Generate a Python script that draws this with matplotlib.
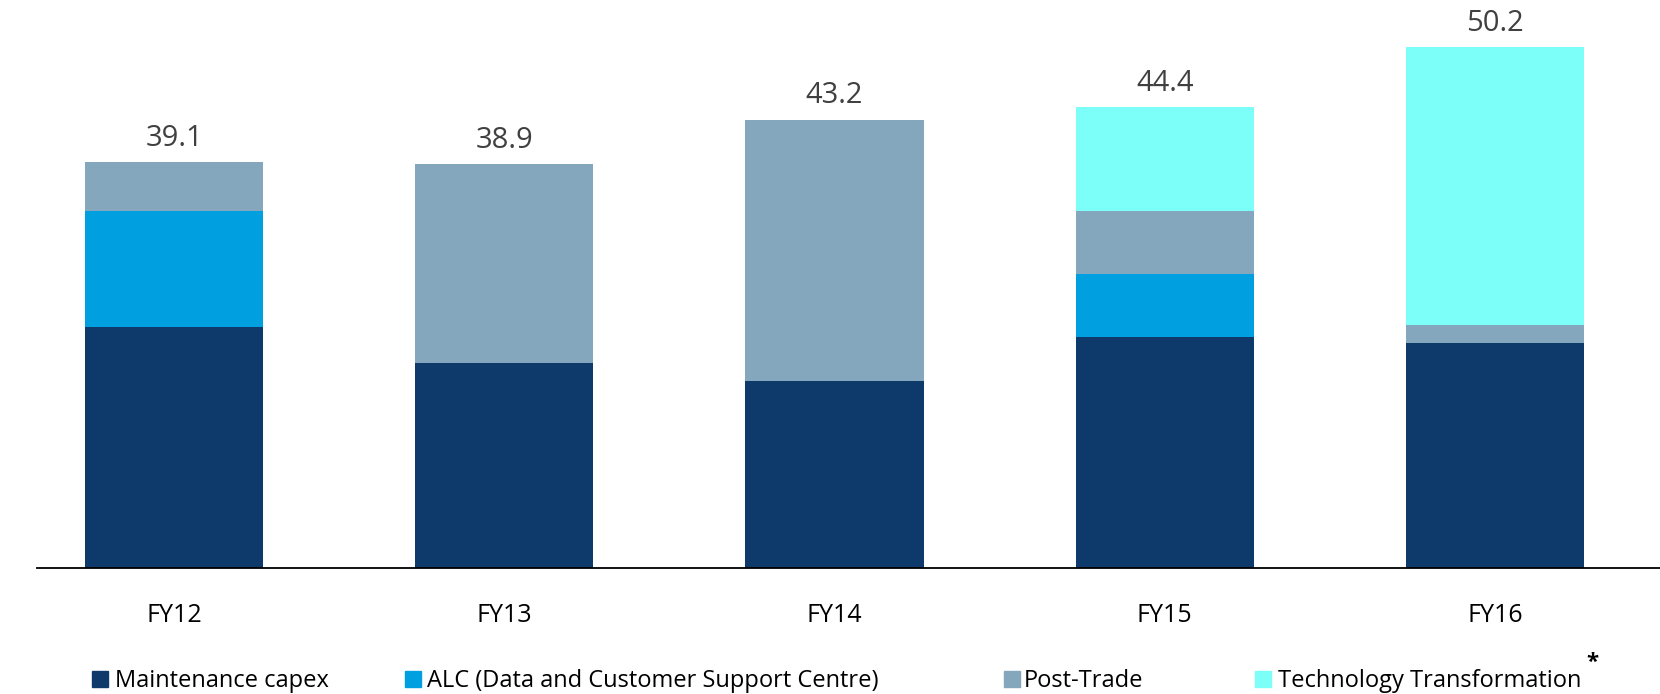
import matplotlib
matplotlib.use("Agg")
import matplotlib.pyplot as plt
from matplotlib.patches import Rectangle
import numpy as np

plt.rcParams['font.family'] = ['Open Sans', 'DejaVu Sans']

categories = ["FY12", "FY13", "FY14", "FY15", "FY16"]
series_names = ["Maintenance capex", "ALC (Data and Customer Support Centre)",
                "Post-Trade", "Technology Transformation"]
maintenance = [23.2, 19.8, 18.0, 22.3, 21.7]
alc = [11.2, 0.0, 0.0, 6.0, 0.0]
post_trade = [4.7, 19.1, 25.2, 6.1, 1.7]
tech = [0.0, 0.0, 0.0, 10.0, 26.8]
totals = [39.1, 38.9, 43.2, 44.4, 50.2]

colors = ["#0E3A6B", "#00A0E0", "#84A7BD", "#7CFFF8"]

fig = plt.figure(figsize=(16.6, 6.94), dpi=100)
ax = fig.add_axes([37/1660, 1 - 568/694, 1 - 37/1660, 568/694])

x = np.arange(len(categories))
width = 0.54
bottom = np.zeros(len(categories))
for vals, c in zip([maintenance, alc, post_trade, tech], colors):
    v = np.array(vals)
    ax.bar(x, v, width, bottom=bottom, color=c, edgecolor="none")
    bottom += v

for xi, t in zip(x, totals):
    ax.annotate(f"{t:.1f}", (xi, t), xytext=(0, 24*72/100), textcoords="offset points",
                ha="center", va="center", fontsize=21, color="#404040")

ax.set_xlim(-0.415, 4.50)
ax.set_ylim(0, 54.73)
for s in ["top", "right", "left"]:
    ax.spines[s].set_visible(False)
ax.spines["bottom"].set_linewidth(1.3)
ax.spines["bottom"].set_color("black")
ax.set_yticks([])
ax.set_xticks(x)
ax.set_xticklabels(categories, fontsize=18, color="black")
ax.tick_params(axis="x", length=0, pad=25)

# Legend (manual)
W, H = 1660, 694
sq = 16
base_y = 687
sq_top = 671
sq_x = [92, 405, 1004, 1255]
tx_x = [115, 427, 1024, 1278]
for sx, tx, name, c in zip(sq_x, tx_x, series_names, colors):
    fig.patches.append(Rectangle((sx / W, 1 - (sq_top + sq) / H), sq / W, sq / H,
                                 transform=fig.transFigure, color=c))
    fig.text(tx / W, 1 - base_y / H, name, ha="left", va="baseline", fontsize=17, color="black")
fig.text(1592 / W, 1 - 662 / H, "*", ha="center", va="center", fontsize=16,
         fontweight="bold", color="black")

fig.savefig("out.png", dpi=100)
